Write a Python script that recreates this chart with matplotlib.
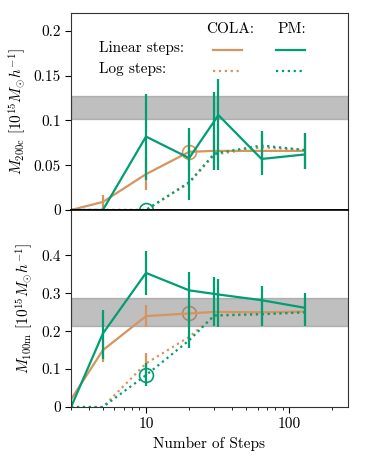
import matplotlib
matplotlib.use("Agg")
import matplotlib.pyplot as plt
from matplotlib.lines import Line2D
from matplotlib.ticker import NullFormatter

plt.rcParams["font.family"] = "serif"
plt.rcParams["font.serif"] = ["cmr10"]
plt.rcParams["mathtext.fontset"] = "cm"
plt.rcParams["axes.unicode_minus"] = False

COLA = "#d4955f"
PM = "#009e73"

# step counts
steps_cola_lin = [3, 5, 10, 20, 30, 64, 128]
steps_pm_lin = [3, 5, 10, 20, 32, 64, 128]
steps_log = [3, 5, 10, 20, 30, 64, 128]

# M200c (top panel)
cola_lin_200c = [0, 0.009, 0.040, 0.065, 0.066, 0.066, 0.066]
cola_lin_200c_err = [0, 0.008, 0.018, 0.020, 0.020, 0.020, 0.020]
pm_lin_200c = [0, 0, 0.082, 0.058, 0.106, 0.057, 0.062]
pm_lin_200c_lo = [0, 0, 0.048, 0.047, 0.061, 0.018, 0.016]
pm_lin_200c_hi = [0, 0, 0.048, 0.034, 0.040, 0.031, 0.024]
cola_log_200c = [0, 0, 0, 0.030, 0.062, 0.070, 0.067]
pm_log_200c = [0, 0, 0, 0.031, 0.063, 0.072, 0.067]
pm_log_200c_lo = [0, 0, 0, 0, 0.018, 0, 0]
pm_log_200c_hi = [0, 0, 0, 0, 0.069, 0, 0]
band_200c = (0.102, 0.127)

# M100m (bottom panel)
cola_lin_100m = [0.020, 0.150, 0.240, 0.247, 0.251, 0.250, 0.252]
cola_lin_100m_err = [0.015, 0.030, 0.030, 0.035, 0.030, 0.030, 0.030]
pm_lin_100m = [0, 0.194, 0.354, 0.308, 0.297, 0.282, 0.262]
pm_lin_100m_lo = [0, 0.068, 0.058, 0.151, 0.087, 0.069, 0.048]
pm_lin_100m_hi = [0, 0.061, 0.058, 0.049, 0.040, 0.038, 0.040]
cola_log_100m = [0, 0, 0.115, 0.185, 0.240, 0.245, 0.250]
cola_log_100m_lo = [0, 0, 0.030, 0, 0, 0, 0]
cola_log_100m_hi = [0, 0, 0.028, 0, 0, 0, 0]
pm_log_100m = [0, 0, 0.084, 0.176, 0.242, 0.245, 0.250]
pm_log_100m_lo = [0, 0, 0.029, 0, 0.029, 0, 0]
pm_log_100m_hi = [0, 0, 0.031, 0, 0.100, 0, 0]
band_100m = (0.214, 0.288)

# highlighted (circled) runs: (steps, value)
circ_cola_200c = (20, 0.065)
circ_pm_200c = (10, 0.0)
circ_cola_100m = (20, 0.247)
circ_pm_100m = (10, 0.084)

fig = plt.figure(figsize=(3.74, 4.57), dpi=100)
ax1 = fig.add_axes([0.19, 0.5405, 0.74, 0.431])
ax2 = fig.add_axes([0.19, 0.1094, 0.74, 0.431], sharex=ax1)

LW = 1.6
eb = dict(capsize=0, elinewidth=LW, lw=LW)


def panel(ax, cl, cle, pl, plo, phi, cg, cglo, cghi, pg, pglo, pghi, band, circ_c, circ_p):
    ax.axhspan(*band, color="gray", alpha=0.5, lw=1.0, zorder=1.5)
    ax.plot(*circ_c, "o", mfc="none", mec=COLA, ms=10, mew=1.2, zorder=1.2)
    ax.errorbar(steps_cola_lin, cl, yerr=cle, color=COLA, zorder=2, **eb)
    ax.errorbar(steps_log, cg, yerr=[cglo, cghi], color=COLA, ls=":", zorder=2, **eb)
    ax.errorbar(steps_log, pg, yerr=[pglo, pghi], color=PM, ls=":", zorder=2.1, **eb)
    ax.errorbar(steps_pm_lin, pl, yerr=[plo, phi], color=PM, zorder=2.2, **eb)
    ax.plot(*circ_p, "o", mfc="none", mec=PM, ms=10, mew=1.2, zorder=2.3)


panel(ax1, cola_lin_200c, cola_lin_200c_err, pm_lin_200c, pm_lin_200c_lo, pm_lin_200c_hi,
      cola_log_200c, [0] * 7, [0] * 7, pm_log_200c, pm_log_200c_lo, pm_log_200c_hi,
      band_200c, circ_cola_200c, circ_pm_200c)
panel(ax2, cola_lin_100m, cola_lin_100m_err, pm_lin_100m, pm_lin_100m_lo, pm_lin_100m_hi,
      cola_log_100m, cola_log_100m_lo, cola_log_100m_hi, pm_log_100m, pm_log_100m_lo, pm_log_100m_hi,
      band_100m, circ_cola_100m, circ_pm_100m)

ax2.set_xscale("log")
ax2.set_xlim(3, 256)
ax2.set_xticks([10, 100])
ax2.set_xticklabels(["10", "100"])
ax2.xaxis.set_minor_formatter(NullFormatter())
ax1.tick_params(axis="x", which="both", bottom=False, labelbottom=False)

ax1.set_ylim(0, 0.22)
ax1.set_yticks([0, 0.05, 0.1, 0.15, 0.2])
ax1.set_yticklabels(["0", "0.05", "0.1", "0.15", "0.2"])
ax2.set_ylim(0, 0.52)
ax2.set_yticks([0, 0.1, 0.2, 0.3, 0.4])
ax2.set_yticklabels(["0", "0.1", "0.2", "0.3", "0.4"])

for ax in (ax1, ax2):
    ax.tick_params(labelsize=11, length=4, width=0.8)
    ax.tick_params(which="minor", length=2.5, width=0.6)
    for s in ax.spines.values():
        s.set_color("#333333")
ax1.spines["bottom"].set_color("black")
ax1.spines["bottom"].set_linewidth(1.2)
ax2.spines["top"].set_color("black")
ax2.spines["top"].set_linewidth(1.2)

ax1.set_ylabel(r"$M_{\rm 200c}\ [10^{15}M_{\odot}h^{-1}]$", fontsize=11, labelpad=4)
ax2.set_ylabel(r"$M_{\rm 100m}\ [10^{15}M_{\odot}h^{-1}]$", fontsize=11, labelpad=4)
ax2.set_xlabel("Number of Steps", fontsize=11)

# legend: line keys from the library, headers as text
keys = [Line2D([], [], color=COLA, lw=LW), Line2D([], [], color=COLA, lw=LW, ls=":"),
        Line2D([], [], color=PM, lw=LW), Line2D([], [], color=PM, lw=LW, ls=":")]
ax1.legend(keys, [""] * 4, ncol=2, frameon=False, handlelength=2.1, handletextpad=0,
           columnspacing=2.45, labelspacing=0.55, loc="upper left",
           bbox_to_anchor=(0.513, 0.836), borderpad=0, borderaxespad=0)
ax1.text(0.574, 0.919, "COLA:", transform=ax1.transAxes, fontsize=11, ha="center", va="center")
ax1.text(0.796, 0.919, "PM:", transform=ax1.transAxes, fontsize=11, ha="center", va="center")
ax1.text(0.101, 0.822, "Linear steps:", transform=ax1.transAxes, fontsize=11, va="center")
ax1.text(0.101, 0.716, "Log steps:", transform=ax1.transAxes, fontsize=11, va="center")

fig.savefig("out.png", dpi=100)
